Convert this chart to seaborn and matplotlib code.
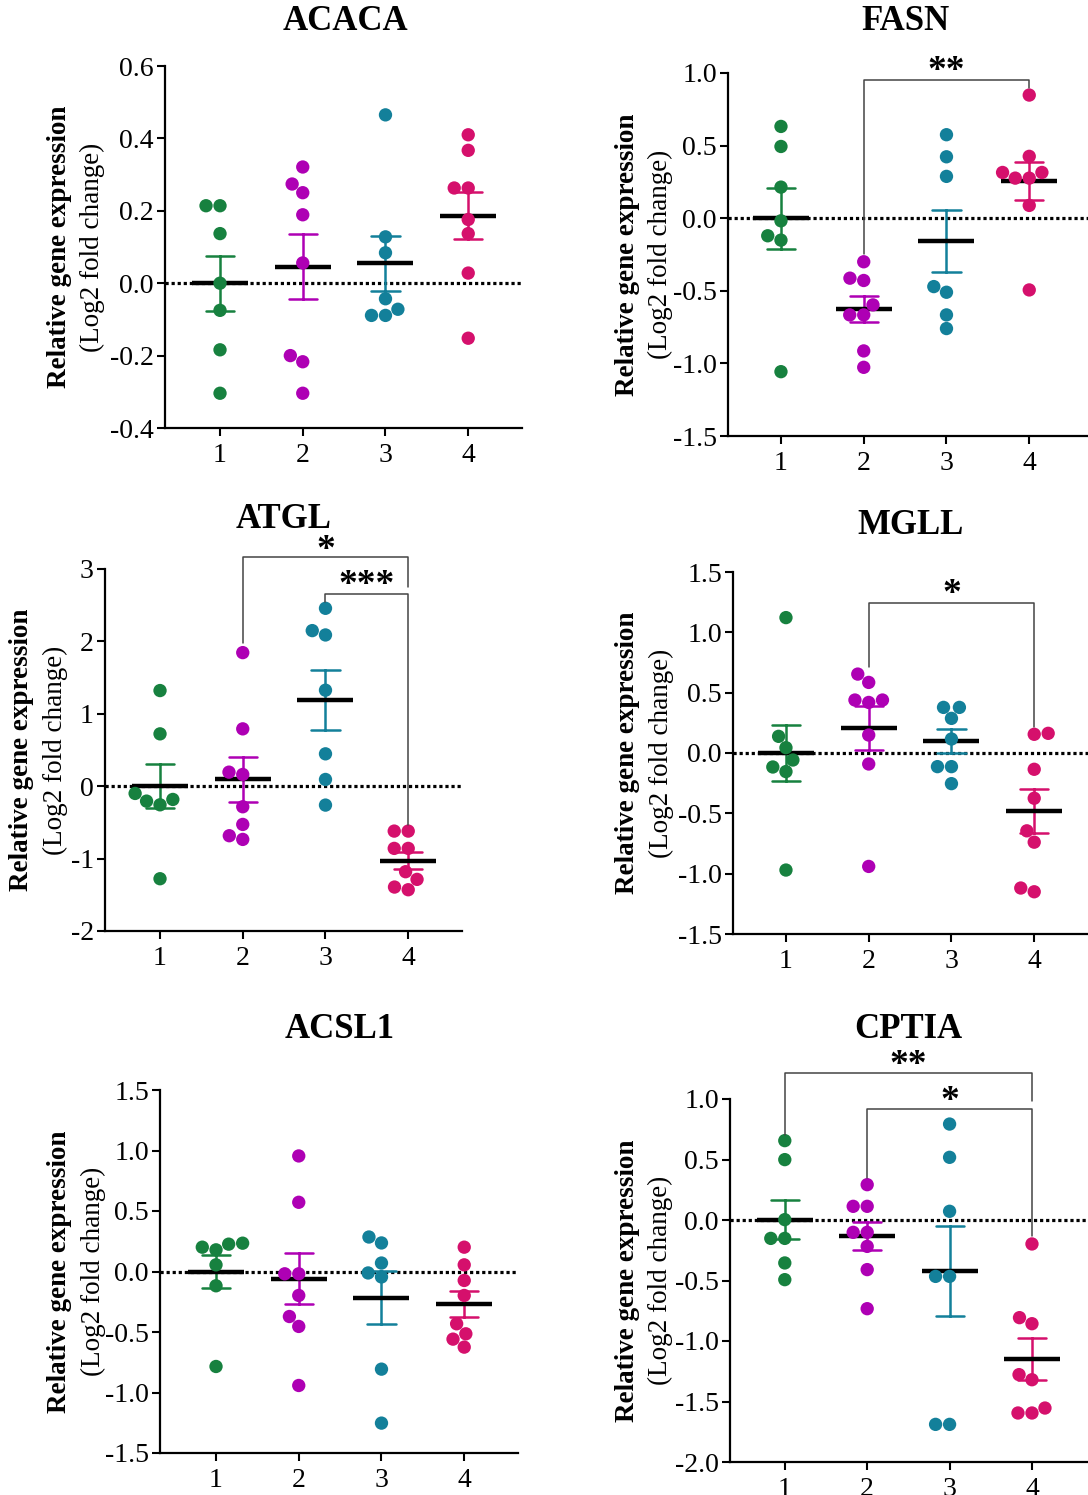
import numpy as np
import pandas as pd
import matplotlib
matplotlib.use("Agg")
import matplotlib.pyplot as plt
from matplotlib.ticker import FormatStrFormatter
import seaborn as sns

# ---------------- data ----------------
GROUPS = ["1", "2", "3", "4"]
COLORS = ["#17813f", "#ae00b4", "#13809a", "#d5106c"]

ACACA = [
    [0.214, 0.214, 0.137, 0.0, -0.075, -0.184, -0.304],
    [0.321, 0.274, 0.250, 0.189, 0.056, -0.200, -0.217, -0.304],
    [0.465, 0.128, 0.084, -0.043, -0.072, -0.089, -0.089],
    [0.410, 0.367, 0.263, 0.263, 0.176, 0.137, 0.028, -0.152],
]
FASN = [
    [0.632, 0.494, 0.214, -0.018, -0.121, -0.151, -1.057],
    [-0.300, -0.413, -0.429, -0.597, -0.666, -0.666, -0.914, -1.027],
    [0.575, 0.423, 0.288, -0.471, -0.510, -0.666, -0.760],
    [0.848, 0.426, 0.315, 0.315, 0.276, 0.276, 0.088, -0.494],
]
ATGL = [
    [1.321, 0.723, -0.100, -0.206, -0.257, -0.183, -1.278],
    [1.845, 0.792, 0.194, 0.162, -0.284, -0.528, -0.684, -0.735],
    [2.457, 2.149, 2.089, 1.326, 0.447, 0.093, -0.261],
    [-0.620, -0.620, -0.859, -0.859, -1.181, -1.287, -1.393, -1.430],
]
MGLL = [
    [1.122, 0.138, 0.044, -0.058, -0.116, -0.154, -0.970],
    [0.654, 0.585, 0.439, 0.439, 0.419, 0.149, -0.091, -0.940],
    [0.378, 0.378, 0.287, 0.116, -0.113, -0.113, -0.254],
    [0.163, 0.155, -0.135, -0.375, -0.645, -0.739, -1.119, -1.150],
]
ACSL1 = [
    [0.234, 0.226, 0.201, 0.179, 0.055, -0.118, -0.785],
    [0.955, 0.572, -0.019, -0.019, -0.198, -0.372, -0.454, -0.942],
    [0.285, 0.236, 0.070, -0.012, -0.045, -0.807, -1.253],
    [0.201, 0.055, -0.074, -0.198, -0.432, -0.515, -0.559, -0.625],
]
CPTIA = [
    [0.656, 0.499, 0.003, -0.152, -0.152, -0.355, -0.493],
    [0.292, 0.113, 0.113, -0.102, -0.102, -0.218, -0.410, -0.733],
    [0.793, 0.518, 0.072, -0.466, -0.466, -1.689, -1.689],
    [-0.198, -0.807, -0.857, -1.278, -1.320, -1.554, -1.595, -1.595],
]

TITLES = ["ACACA", "FASN", "ATGL", "MGLL", "ACSL1", "CPTIA"]
DATASETS = [ACACA, FASN, ATGL, MGLL, ACSL1, CPTIA]

YTICKS = [
    [-0.4, -0.2, 0.0, 0.2, 0.4, 0.6],
    [-1.5, -1.0, -0.5, 0.0, 0.5, 1.0],
    [-2, -1, 0, 1, 2, 3],
    [-1.5, -1.0, -0.5, 0.0, 0.5, 1.0, 1.5],
    [-1.5, -1.0, -0.5, 0.0, 0.5, 1.0, 1.5],
    [-2.0, -1.5, -1.0, -0.5, 0.0, 0.5, 1.0],
]
YFMT = ["%.1f", "%.1f", "%d", "%.1f", "%.1f", "%.1f"]

# significance brackets: (group a, group b, top y, left leg end, right leg end, label, label y)
BRACKETS = [
    [],
    [(1, 3, 0.95, -0.25, 0.90, "**", 1.01)],
    [(1, 3, 3.16, 1.98, 2.75, "*", 3.25), (2, 3, 2.66, 2.55, -0.53, "***", 2.77)],
    [(1, 3, 1.246, 0.714, 0.218, "*", 1.31)],
    [],
    [(0, 3, 1.218, 0.705, 0.98, "**", 1.28), (1, 3, 0.92, 0.347, -0.135, "*", 0.98)],
]

# ---------------- layout ----------------
W, H = 1088, 1495
# axes rectangles in pixels: left, top, right, bottom
AX_PX = [
    (165, 66, 522, 428),
    (728, 73, 1088, 436),
    (105, 569, 462, 931),
    (733, 572, 1088, 934),
    (160, 1090, 518, 1453),
    (730, 1099, 1088, 1462),
]
XLIMS = [(-0.665, 3.65), (-0.64, 3.71), (-0.665, 3.65), (-0.64, 3.65), (-0.677, 3.65), (-0.665, 3.68)]
TITLE_PX = [(345, 22), (905, 22), (284, 519), (910, 525), (340, 1030), (908, 1030)]
YLAB_X = [(60, 92), (627, 660), (22, 55), (628, 661), (60, 93), (628, 660)]

sns.set_theme(style="ticks")
plt.rcParams["font.family"] = ["Liberation Serif", "DejaVu Serif"]
plt.rcParams["axes.unicode_minus"] = False
plt.rcParams["text.color"] = "black"
plt.rcParams["axes.labelcolor"] = "black"
plt.rcParams["xtick.color"] = "black"
plt.rcParams["ytick.color"] = "black"

fig = plt.figure(figsize=(W / 100, H / 100), dpi=100)

for i, (title, data) in enumerate(zip(TITLES, DATASETS)):
    l, t, r, b = AX_PX[i]
    ax = fig.add_axes([l / W, 1 - b / H, (r - l) / W, (b - t) / H])

    df = pd.DataFrame(
        [(g, v) for g, vals in zip(GROUPS, data) for v in vals],
        columns=["group", "value"],
    )

    ax.axhline(0, color="black", linestyle=(0, (1, 0.9)), linewidth=2.3, zorder=1.5)

    sns.pointplot(
        data=df, x="group", y="value", hue="group", order=GROUPS, hue_order=GROUPS,
        palette=COLORS, errorbar="se", capsize=0.34, linestyle="none", marker="_",
        markersize=40, markeredgewidth=3.2, markeredgecolor="black", zorder=2.5,
        err_kws={"linewidth": 1.8, "zorder": 2}, legend=False, ax=ax,
    )
    sns.swarmplot(
        data=df, x="group", y="value", hue="group", order=GROUPS, hue_order=GROUPS,
        palette=COLORS, size=9.6, linewidth=0, legend=False, ax=ax, zorder=3,
    )

    ax.set_xlim(*XLIMS[i])
    yt = YTICKS[i]
    ax.set_ylim(yt[0], yt[-1])
    ax.set_yticks(yt)
    ax.yaxis.set_major_formatter(FormatStrFormatter(YFMT[i]))
    ax.set_xlabel("")
    ax.set_ylabel("")
    sns.despine(ax=ax)
    for sp in ["left", "bottom"]:
        ax.spines[sp].set_linewidth(1.6)
        ax.spines[sp].set_color("black")
    ax.tick_params(axis="y", length=6, width=1.5, labelsize=20, pad=2, colors="black")
    ax.tick_params(axis="x", length=6, width=1.5, labelsize=20, pad=5, colors="black")

    for (a, c, ytop, yl, yr, lab, ylab) in BRACKETS[i]:
        ax.plot([a, a, c, c], [yl, ytop, ytop, yr], color="#444444", linewidth=1.1,
                clip_on=False, zorder=4)
        ax.text((a + c) / 2, ylab, lab, ha="center", va="center", fontsize=27,
                fontweight="bold", color="black", clip_on=False)

    tx, ty = TITLE_PX[i]
    fig.text(tx / W, 1 - ty / H, title, ha="center", va="center", fontsize=25,
             fontweight="bold", color="black")
    yc = 1 - (t + b) / 2 / H
    bx, rx = YLAB_X[i]
    fig.text(bx / W, yc, "Relative gene expression", rotation=90, ha="center",
             va="center", fontsize=19.5, fontweight="bold", color="black")
    fig.text(rx / W, yc, "(Log2 fold change)", rotation=90, ha="center",
             va="center", fontsize=19.5, color="black")

fig.savefig("out.png", dpi=100)
